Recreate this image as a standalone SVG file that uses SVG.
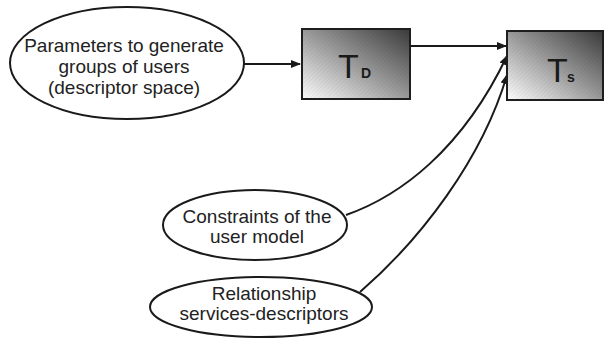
<svg xmlns="http://www.w3.org/2000/svg" width="605" height="341" viewBox="0 0 605 341">
<style>
.ell{fill:#fff;stroke:#1a1a1a;stroke-width:2}
.box{stroke:#1e1e1e;stroke-width:2}
.lbl{font-family:"Liberation Sans",Arial,sans-serif;font-size:19px;fill:#222;text-anchor:middle}
.big{font-family:"Liberation Sans",Arial,sans-serif;font-size:34px;fill:#1a1a1a}
.sub{font-family:"Liberation Sans",Arial,sans-serif;font-size:14px;font-weight:bold;fill:#1a1a1a}
.con{fill:none;stroke:#1a1a1a;stroke-width:2}
</style>
<defs>
<linearGradient id="g" x1="0" y1="1" x2="1" y2="0">
<stop offset="0" stop-color="#ffffff"/>
<stop offset="0.5" stop-color="#9a9a9a"/>
<stop offset="1" stop-color="#3a3a3a"/>
</linearGradient>
<pattern id="h" width="3" height="3" patternUnits="userSpaceOnUse" patternTransform="rotate(45)">
<line x1="0" y1="0" x2="0" y2="3" stroke="#000" stroke-width="1" stroke-opacity="0.08"/>
</pattern>
<marker id="a" viewBox="0 0 10 10" refX="9" refY="5" markerWidth="5" markerHeight="5" orient="auto" markerUnits="strokeWidth">
<path d="M0,1 L10,5 L0,9 Z" fill="#1a1a1a"/>
</marker>
</defs>
<g id="connectors">
<line class="con" x1="244" y1="64" x2="300" y2="64" marker-end="url(#a)"/>
<line class="con" x1="410" y1="46" x2="506" y2="46" marker-end="url(#a)"/>
<path class="con" d="M346,215 C400,196 462,150 507,56" marker-end="url(#a)"/>
<path class="con" d="M360,292 C420,240 482,160 507,75" marker-end="url(#a)"/>
</g>
<g id="params">
<ellipse class="ell" cx="127" cy="63" rx="117" ry="56"/>
<text class="lbl" x="124" y="52">Parameters to generate</text>
<text class="lbl" x="124" y="73">groups of users</text>
<text class="lbl" x="124" y="94">(descriptor space)</text>
</g>
<g id="TD">
<rect class="box" x="302" y="29" width="108" height="70" fill="url(#g)"/>
<rect x="302" y="29" width="108" height="70" fill="url(#h)"/>
<text class="big" x="338" y="78">T</text>
<text class="sub" x="361" y="78">D</text>
</g>
<g id="TS">
<rect class="box" x="507" y="31" width="96" height="69" fill="url(#g)"/>
<rect x="507" y="31" width="96" height="69" fill="url(#h)"/>
<text class="big" x="547" y="82">T</text>
<text class="sub" x="567" y="82">s</text>
</g>
<g id="constraints">
<ellipse class="ell" cx="255" cy="225" rx="92" ry="35"/>
<text class="lbl" x="257" y="223">Constraints of the</text>
<text class="lbl" x="257" y="243">user model</text>
</g>
<g id="relationship">
<ellipse class="ell" cx="261" cy="307" rx="111" ry="30"/>
<text class="lbl" x="264" y="300">Relationship</text>
<text class="lbl" x="264" y="320">services-descriptors</text>
</g>
</svg>
